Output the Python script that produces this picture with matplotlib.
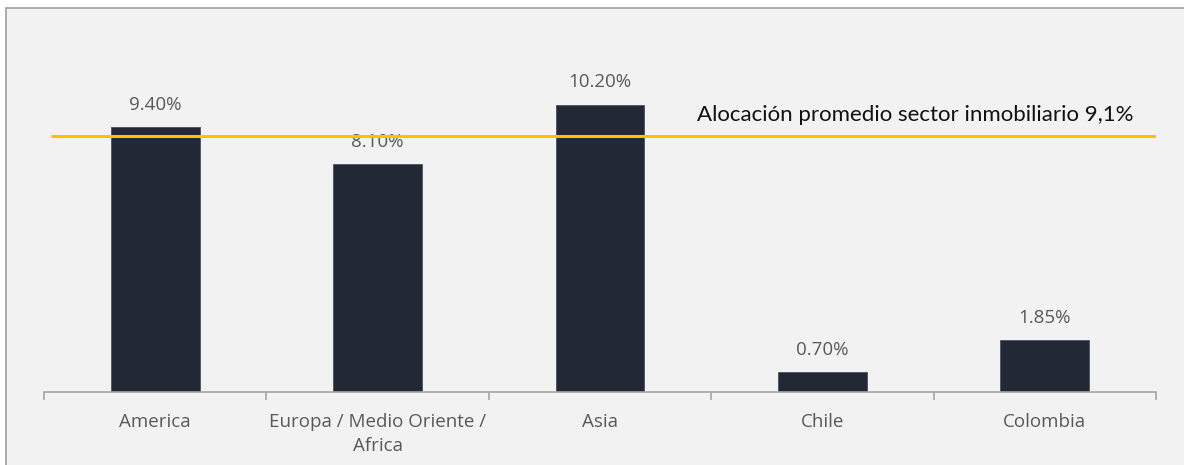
import matplotlib.pyplot as plt
from matplotlib.patches import Rectangle

categories = ["America", "Europa / Medio Oriente /\nAfrica", "Asia", "Chile", "Colombia"]
values = [9.40, 8.10, 10.20, 0.70, 1.85]
value_labels = ["9.40%", "8.10%", "10.20%", "0.70%", "1.85%"]
avg_value = 9.1
avg_label = "Alocación promedio sector inmobiliario 9,1%"

BAR_COLOR = "#222935"
LINE_COLOR = "#FFC000"
TEXT_GRAY = "#595959"
AXIS_GRAY = "#A6A6A6"


def main():
    plt.rcParams["font.family"] = ["Open Sans", "DejaVu Sans"]
    fig = plt.figure(figsize=(11.84, 4.65), dpi=100, facecolor="white")

    # panel background with thin border on top/left
    fig.patches.append(Rectangle((6 / 1184, -0.01), 1.02, 1 - 8 / 465 + 0.01,
                                 transform=fig.transFigure, facecolor="#F2F2F2",
                                 edgecolor="#A0A0A0", linewidth=1.2, zorder=-1))

    ax = fig.add_axes([44 / 1184, 73 / 465, 1112 / 1184, 338 / 465])
    ax.set_zorder(1)
    ax.set_facecolor("none")
    x = list(range(len(categories)))
    ax.bar(x, values, width=0.4, color=BAR_COLOR, edgecolor="#4a5260",
           linewidth=0.6, zorder=2)

    for xi, v, lab in zip(x, values, value_labels):
        ax.annotate(lab, (xi, v), xytext=(0, 16), textcoords="offset points",
                    ha="center", va="center", fontsize=13.5, color=TEXT_GRAY)

    # average allocation line
    ax.plot([-0.47, 4.5], [avg_value, avg_value], color=LINE_COLOR,
            linewidth=2.2, zorder=3, solid_capstyle="butt")
    ax.annotate(avg_label, (4.4, avg_value), xytext=(0, 15),
                textcoords="offset points", ha="right", va="center",
                fontsize=16, color="#111111", family=["Lato", "DejaVu Sans"])

    ax.set_xlim(-0.5, 4.5)
    ax.set_ylim(0, 12)
    ax.set_yticks([])
    for side in ["top", "right", "left"]:
        ax.spines[side].set_visible(False)
    ax.spines["bottom"].set_color(AXIS_GRAY)
    ax.spines["bottom"].set_linewidth(1.2)

    ax.set_xticks(x)
    ax.set_xticklabels(categories, fontsize=13.5, color=TEXT_GRAY, linespacing=1.45)
    ax.tick_params(axis="x", which="major", length=0, pad=15)
    ax.set_xticks([i - 0.5 for i in range(len(categories) + 1)], minor=True)
    ax.tick_params(axis="x", which="minor", length=6, color=AXIS_GRAY, width=1.2)

    fig.savefig("out.png", dpi=100, facecolor="white")


if __name__ == "__main__":
    main()
